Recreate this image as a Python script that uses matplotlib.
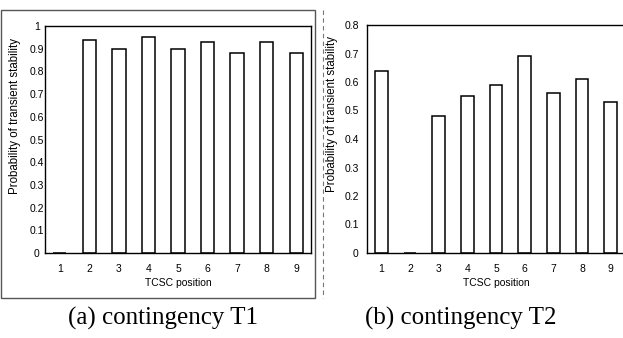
import matplotlib
matplotlib.use('Agg')
import matplotlib.pyplot as plt
from matplotlib.patches import Rectangle
from matplotlib.lines import Line2D

# TCSC positions and probability of transient stability
positions = [1, 2, 3, 4, 5, 6, 7, 8, 9]
prob_t1 = [0.0, 0.94, 0.90, 0.95, 0.90, 0.93, 0.88, 0.93, 0.88]
prob_t2 = [0.64, 0.0, 0.48, 0.55, 0.59, 0.69, 0.56, 0.61, 0.53]
yticks_t1 = [0, 0.1, 0.2, 0.3, 0.4, 0.5, 0.6, 0.7, 0.8, 0.9, 1]
yticks_t2 = [0, 0.1, 0.2, 0.3, 0.4, 0.5, 0.6, 0.7, 0.8]
captions = ['(a) contingency T1', '(b) contingency T2']

W, H = 623, 338
fig = plt.figure(figsize=(W / 100, H / 100), dpi=100)

tick_font = {'family': 'Liberation Sans', 'size': 7.5}

def px_axes(x0, y0, x1, y1):
    return fig.add_axes([x0 / W, 1 - y1 / H, (x1 - x0) / W, (y1 - y0) / H])

def draw_panel(ax, vals, yticks, ymax, ytick_ha, ypad, ylab_xy):
    ax.bar(positions, vals, width=0.45, color='white', edgecolor='black', linewidth=1.1)
    ax.set_xlim(0.5, 9.5)
    ax.set_ylim(0, ymax)
    ax.set_xticks(positions)
    ax.set_xticklabels([str(p) for p in positions], fontdict=tick_font)
    ax.set_yticks(yticks)
    ax.set_yticklabels(['%g' % v for v in yticks], fontdict=tick_font, ha=ytick_ha)
    ax.tick_params(axis='x', length=0, pad=8)
    ax.tick_params(axis='y', length=0, pad=ypad)
    ax.set_xlabel('TCSC position', fontdict=tick_font, labelpad=3)
    ax.set_ylabel('Probability of transient stability',
                  fontdict={'family': 'Liberation Sans', 'size': 8.3})
    # label coords give the right edge of the rotated label
    ax.yaxis.set_label_coords(*ylab_xy)
    for s in ax.spines.values():
        s.set_linewidth(1.0)
        s.set_color('black')

ax1 = px_axes(45, 26, 311, 253)
draw_panel(ax1, prob_t1, yticks_t1, 1.0, 'center', 6, (-0.092, 0.605))

ax2 = px_axes(367, 25, 625, 253)
draw_panel(ax2, prob_t2, yticks_t2, 0.8, 'right', 6, (-0.112, 0.61))

# frame around the left panel and dashed border of the right one
fig.patches.append(Rectangle((1 / W, 1 - 298 / H), 314 / W, 288 / H, transform=fig.transFigure,
                             fill=False, edgecolor='#555555', linewidth=1.0))
fig.lines.append(Line2D([323 / W, 323 / W], [1 - 10 / H, 1 - 298 / H], transform=fig.transFigure,
                        color='#777777', linestyle=(0, (4, 3)), linewidth=0.8))

fig.text(163 / W, 1 - 318 / H, captions[0], ha='center', va='center',
         family='Liberation Serif', fontsize=18)
fig.text(461 / W, 1 - 318 / H, captions[1], ha='center', va='center',
         family='Liberation Serif', fontsize=18)

fig.savefig('out.png', dpi=100)
